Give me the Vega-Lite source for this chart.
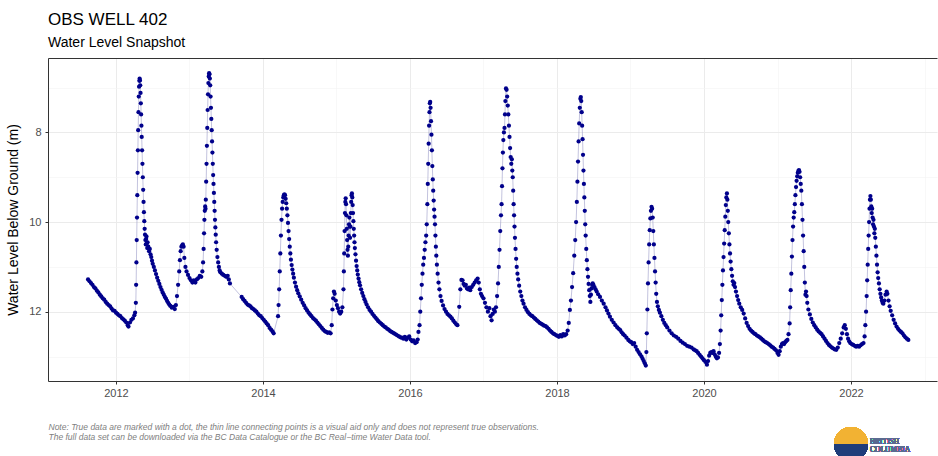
{
  "$schema": "https://vega.github.io/schema/vega-lite/v6.json",
  "width": 889,
  "height": 323,
  "autosize": "none",
  "padding": {"left": 48, "top": 58, "right": 1, "bottom": 75},
  "background": "white",
  "config": {"view": {"stroke": null}, "font": "Liberation Sans"},
  "title": {
    "text": "OBS WELL 402",
    "subtitle": "Water Level Snapshot",
    "anchor": "start",
    "frame": "group",
    "font": "Liberation Sans",
    "fontSize": 17,
    "fontWeight": "normal",
    "color": "#000000",
    "subtitleFont": "Liberation Sans",
    "subtitleFontSize": 14,
    "subtitleColor": "#000000",
    "subtitlePadding": 7,
    "offset": 7
  },
  "data": {"values": [
{"year":2011.62,"depth":11.28},{"year":2011.64,"depth":11.32},{"year":2011.66,"depth":11.36},{"year":2011.68,"depth":11.40},{"year":2011.70,"depth":11.45},{"year":2011.72,"depth":11.48},{"year":2011.74,"depth":11.53},{"year":2011.76,"depth":11.57},{"year":2011.78,"depth":11.62},{"year":2011.80,"depth":11.66},{"year":2011.82,"depth":11.70},{"year":2011.84,"depth":11.73},{"year":2011.86,"depth":11.78},{"year":2011.88,"depth":11.82},{"year":2011.90,"depth":11.85},{"year":2011.92,"depth":11.88},{"year":2011.94,"depth":11.93},{"year":2011.96,"depth":11.97},{"year":2011.98,"depth":11.98},{"year":2012.00,"depth":12.02},{"year":2012.02,"depth":12.05},{"year":2012.04,"depth":12.08},{"year":2012.06,"depth":12.10},{"year":2012.08,"depth":12.14},{"year":2012.10,"depth":12.17},{"year":2012.12,"depth":12.20},{"year":2012.14,"depth":12.24},{"year":2012.16,"depth":12.30},{"year":2012.17,"depth":12.33},{"year":2012.19,"depth":12.24},{"year":2012.21,"depth":12.18},{"year":2012.23,"depth":12.15},{"year":2012.25,"depth":12.08},{"year":2012.26,"depth":12.02},
{"year":2012.270,"depth":11.80},{"year":2012.274,"depth":11.40},{"year":2012.278,"depth":10.90},{"year":2012.282,"depth":10.40},{"year":2012.286,"depth":9.90},{"year":2012.290,"depth":9.40},{"year":2012.294,"depth":8.90},{"year":2012.298,"depth":8.40},{"year":2012.302,"depth":7.95},{"year":2012.306,"depth":7.55},{"year":2012.310,"depth":7.20},{"year":2012.314,"depth":6.98},{"year":2012.318,"depth":6.85},{"year":2012.322,"depth":6.80},{"year":2012.326,"depth":6.84},{"year":2012.330,"depth":6.95},{"year":2012.334,"depth":7.12},{"year":2012.338,"depth":7.35},{"year":2012.342,"depth":7.60},{"year":2012.346,"depth":7.85},{"year":2012.350,"depth":8.10},{"year":2012.355,"depth":8.40},{"year":2012.360,"depth":8.70},{"year":2012.365,"depth":9.00},{"year":2012.370,"depth":9.28},{"year":2012.375,"depth":9.55},{"year":2012.380,"depth":9.78},{"year":2012.385,"depth":9.98},{"year":2012.390,"depth":10.15},{"year":2012.395,"depth":10.28},{"year":2012.400,"depth":10.40},{"year":2012.405,"depth":10.50},{"year":2012.410,"depth":10.38},{"year":2012.415,"depth":10.32},{"year":2012.420,"depth":10.48},{"year":2012.425,"depth":10.58},{"year":2012.430,"depth":10.45},{"year":2012.440,"depth":10.55},{"year":2012.450,"depth":10.65},{"year":2012.460,"depth":10.60},{"year":2012.470,"depth":10.72},{"year":2012.480,"depth":10.78},{"year":2012.490,"depth":10.86},{"year":2012.500,"depth":10.93},{"year":2012.515,"depth":11.00},{"year":2012.530,"depth":11.08},{"year":2012.545,"depth":11.16},{"year":2012.560,"depth":11.24},{"year":2012.575,"depth":11.31},{"year":2012.590,"depth":11.38},{"year":2012.605,"depth":11.45},{"year":2012.620,"depth":11.51},{"year":2012.635,"depth":11.57},{"year":2012.650,"depth":11.62},{"year":2012.665,"depth":11.67},{"year":2012.680,"depth":11.71},{"year":2012.695,"depth":11.76},{"year":2012.710,"depth":11.80},{"year":2012.725,"depth":11.84},{"year":2012.740,"depth":11.87},{"year":2012.760,"depth":11.91},{"year":2012.780,"depth":11.89},{"year":2012.800,"depth":11.94},{"year":2012.815,"depth":11.85},{"year":2012.830,"depth":11.65},{"year":2012.845,"depth":11.40},{"year":2012.860,"depth":11.10},{"year":2012.870,"depth":10.85},{"year":2012.880,"depth":10.65},{"year":2012.890,"depth":10.55},{"year":2012.900,"depth":10.52},{"year":2012.910,"depth":10.50},{"year":2012.920,"depth":10.55},{"year":2012.930,"depth":10.80},{"year":2012.945,"depth":11.00},{"year":2012.960,"depth":11.10},{"year":2012.980,"depth":11.18},{"year":2013.000,"depth":11.25},{"year":2013.020,"depth":11.30},{"year":2013.040,"depth":11.35},{"year":2013.060,"depth":11.30},{"year":2013.080,"depth":11.35},{"year":2013.100,"depth":11.28},{"year":2013.120,"depth":11.25},{"year":2013.140,"depth":11.20},{"year":2013.160,"depth":11.22},{"year":2013.175,"depth":11.10},{"year":2013.185,"depth":10.90},{"year":2013.192,"depth":10.60},{"year":2013.198,"depth":10.25},{"year":2013.203,"depth":9.95},{"year":2013.208,"depth":9.75},{"year":2013.213,"depth":9.65},{"year":2013.218,"depth":9.70},{"year":2013.222,"depth":9.50},{"year":2013.227,"depth":9.10},{"year":2013.232,"depth":8.70},{"year":2013.237,"depth":8.30},{"year":2013.242,"depth":7.90},{"year":2013.247,"depth":7.50},{"year":2013.252,"depth":7.15},{"year":2013.257,"depth":6.90},{"year":2013.262,"depth":6.75},{"year":2013.267,"depth":6.68},{"year":2013.272,"depth":6.70},{"year":2013.277,"depth":6.80},{"year":2013.282,"depth":6.95},{"year":2013.287,"depth":7.20},{"year":2013.292,"depth":7.45},{"year":2013.297,"depth":7.70},{"year":2013.302,"depth":7.95},{"year":2013.307,"depth":8.20},{"year":2013.312,"depth":8.45},{"year":2013.317,"depth":8.70},{"year":2013.322,"depth":8.95},{"year":2013.327,"depth":9.15},{"year":2013.332,"depth":9.35},{"year":2013.337,"depth":9.55},{"year":2013.342,"depth":9.75},{"year":2013.347,"depth":9.95},{"year":2013.352,"depth":10.12},{"year":2013.357,"depth":10.28},{"year":2013.362,"depth":10.45},{"year":2013.370,"depth":10.62},{"year":2013.380,"depth":10.78},{"year":2013.390,"depth":10.90},{"year":2013.400,"depth":11.00},{"year":2013.410,"depth":11.08},{"year":2013.420,"depth":11.12},{"year":2013.440,"depth":11.15},{"year":2013.460,"depth":11.18},{"year":2013.480,"depth":11.20},{"year":2013.500,"depth":11.22},{"year":2013.520,"depth":11.20},{"year":2013.535,"depth":11.28},{"year":2013.550,"depth":11.37},
{"year":2013.710,"depth":11.67},{"year":2013.730,"depth":11.72},{"year":2013.750,"depth":11.76},{"year":2013.770,"depth":11.80},{"year":2013.790,"depth":11.84},{"year":2013.810,"depth":11.86},{"year":2013.830,"depth":11.88},{"year":2013.850,"depth":11.92},{"year":2013.870,"depth":11.94},{"year":2013.890,"depth":11.97},{"year":2013.910,"depth":12.00},{"year":2013.930,"depth":12.04},{"year":2013.950,"depth":12.08},{"year":2013.970,"depth":12.10},{"year":2013.990,"depth":12.14},{"year":2014.010,"depth":12.18},{"year":2014.030,"depth":12.22},{"year":2014.050,"depth":12.26},{"year":2014.070,"depth":12.30},{"year":2014.090,"depth":12.36},{"year":2014.110,"depth":12.40},{"year":2014.130,"depth":12.44},{"year":2014.145,"depth":12.48},
{"year":2014.205,"depth":12.10},{"year":2014.212,"depth":11.85},{"year":2014.220,"depth":11.50},{"year":2014.228,"depth":11.10},{"year":2014.236,"depth":10.70},{"year":2014.244,"depth":10.30},{"year":2014.252,"depth":9.95},{"year":2014.260,"depth":9.70},{"year":2014.268,"depth":9.55},{"year":2014.276,"depth":9.45},{"year":2014.284,"depth":9.40},{"year":2014.292,"depth":9.38},{"year":2014.300,"depth":9.40},{"year":2014.308,"depth":9.48},{"year":2014.316,"depth":9.58},{"year":2014.324,"depth":9.70},{"year":2014.332,"depth":9.85},{"year":2014.340,"depth":10.02},{"year":2014.348,"depth":10.20},{"year":2014.356,"depth":10.38},{"year":2014.364,"depth":10.55},{"year":2014.372,"depth":10.70},{"year":2014.380,"depth":10.84},{"year":2014.390,"depth":10.96},{"year":2014.400,"depth":11.06},{"year":2014.410,"depth":11.15},{"year":2014.420,"depth":11.24},{"year":2014.435,"depth":11.35},{"year":2014.450,"depth":11.44},{"year":2014.465,"depth":11.52},{"year":2014.480,"depth":11.59},{"year":2014.500,"depth":11.66},{"year":2014.520,"depth":11.73},{"year":2014.540,"depth":11.80},{"year":2014.560,"depth":11.86},{"year":2014.580,"depth":11.92},{"year":2014.600,"depth":11.97},{"year":2014.620,"depth":12.02},{"year":2014.640,"depth":12.06},{"year":2014.660,"depth":12.10},{"year":2014.680,"depth":12.14},{"year":2014.700,"depth":12.17},{"year":2014.720,"depth":12.20},{"year":2014.740,"depth":12.24},{"year":2014.760,"depth":12.28},{"year":2014.780,"depth":12.32},{"year":2014.800,"depth":12.36},{"year":2014.820,"depth":12.40},{"year":2014.840,"depth":12.43},{"year":2014.860,"depth":12.45},{"year":2014.880,"depth":12.47},{"year":2014.900,"depth":12.46},{"year":2014.920,"depth":12.48},{"year":2014.935,"depth":12.30},{"year":2014.945,"depth":11.95},{"year":2014.955,"depth":11.70},{"year":2014.965,"depth":11.55},{"year":2014.975,"depth":11.60},{"year":2014.990,"depth":11.75},{"year":2015.005,"depth":11.85},{"year":2015.020,"depth":11.92},{"year":2015.035,"depth":12.00},{"year":2015.050,"depth":12.04},{"year":2015.065,"depth":12.00},{"year":2015.080,"depth":11.90},
{"year":2015.095,"depth":11.50},{"year":2015.100,"depth":11.10},{"year":2015.105,"depth":10.70},{"year":2015.110,"depth":10.20},{"year":2015.115,"depth":9.80},{"year":2015.120,"depth":9.55},{"year":2015.125,"depth":9.47},{"year":2015.130,"depth":9.60},{"year":2015.135,"depth":9.85},{"year":2015.140,"depth":10.15},{"year":2015.145,"depth":10.40},{"year":2015.150,"depth":10.62},{"year":2015.155,"depth":10.75},{"year":2015.160,"depth":10.55},{"year":2015.165,"depth":10.30},{"year":2015.170,"depth":10.05},{"year":2015.175,"depth":9.90},{"year":2015.180,"depth":10.10},{"year":2015.185,"depth":10.35},{"year":2015.190,"depth":10.10},{"year":2015.195,"depth":9.80},{"year":2015.200,"depth":9.55},{"year":2015.205,"depth":9.40},{"year":2015.210,"depth":9.36},{"year":2015.215,"depth":9.45},{"year":2015.220,"depth":9.62},{"year":2015.225,"depth":9.80},{"year":2015.230,"depth":9.98},{"year":2015.235,"depth":10.15},{"year":2015.240,"depth":10.30},{"year":2015.245,"depth":10.45},{"year":2015.250,"depth":10.58},{"year":2015.258,"depth":10.72},{"year":2015.266,"depth":10.86},{"year":2015.274,"depth":10.98},{"year":2015.282,"depth":11.08},{"year":2015.290,"depth":11.17},{"year":2015.300,"depth":11.26},{"year":2015.310,"depth":11.34},{"year":2015.320,"depth":11.41},{"year":2015.335,"depth":11.50},{"year":2015.350,"depth":11.58},{"year":2015.365,"depth":11.65},{"year":2015.380,"depth":11.72},{"year":2015.395,"depth":11.78},{"year":2015.410,"depth":11.84},{"year":2015.430,"depth":11.90},{"year":2015.450,"depth":11.96},{"year":2015.470,"depth":12.00},{"year":2015.490,"depth":12.05},{"year":2015.510,"depth":12.09},{"year":2015.530,"depth":12.13},{"year":2015.550,"depth":12.17},{"year":2015.570,"depth":12.21},{"year":2015.590,"depth":12.24},{"year":2015.610,"depth":12.27},{"year":2015.630,"depth":12.30},{"year":2015.650,"depth":12.33},{"year":2015.670,"depth":12.35},{"year":2015.690,"depth":12.38},{"year":2015.710,"depth":12.40},{"year":2015.730,"depth":12.43},{"year":2015.750,"depth":12.45},{"year":2015.770,"depth":12.47},{"year":2015.790,"depth":12.49},{"year":2015.810,"depth":12.51},{"year":2015.830,"depth":12.53},{"year":2015.850,"depth":12.55},{"year":2015.870,"depth":12.57},{"year":2015.890,"depth":12.58},{"year":2015.910,"depth":12.60},{"year":2015.930,"depth":12.56},{"year":2015.950,"depth":12.62},{"year":2015.970,"depth":12.58},{"year":2015.990,"depth":12.55},{"year":2016.010,"depth":12.62},{"year":2016.030,"depth":12.66},{"year":2016.050,"depth":12.64},{"year":2016.070,"depth":12.70},{"year":2016.090,"depth":12.68},{"year":2016.105,"depth":12.62},{"year":2016.115,"depth":12.45},
{"year":2016.130,"depth":12.30},{"year":2016.140,"depth":12.00},{"year":2016.150,"depth":11.70},{"year":2016.160,"depth":11.40},{"year":2016.170,"depth":11.15},{"year":2016.180,"depth":10.95},{"year":2016.190,"depth":10.80},{"year":2016.200,"depth":10.62},{"year":2016.210,"depth":10.45},{"year":2016.220,"depth":10.30},{"year":2016.228,"depth":10.05},{"year":2016.236,"depth":9.60},{"year":2016.242,"depth":9.15},{"year":2016.248,"depth":8.70},{"year":2016.254,"depth":8.25},{"year":2016.260,"depth":7.85},{"year":2016.265,"depth":7.55},{"year":2016.270,"depth":7.35},{"year":2016.275,"depth":7.32},{"year":2016.280,"depth":7.45},{"year":2016.286,"depth":7.75},{"year":2016.292,"depth":8.05},{"year":2016.298,"depth":8.40},{"year":2016.304,"depth":8.75},{"year":2016.310,"depth":9.05},{"year":2016.316,"depth":9.30},{"year":2016.322,"depth":9.52},{"year":2016.328,"depth":9.72},{"year":2016.334,"depth":9.88},{"year":2016.340,"depth":10.05},{"year":2016.346,"depth":10.30},{"year":2016.352,"depth":10.55},{"year":2016.358,"depth":10.75},{"year":2016.366,"depth":10.95},{"year":2016.376,"depth":11.15},{"year":2016.388,"depth":11.35},{"year":2016.400,"depth":11.50},{"year":2016.415,"depth":11.65},{"year":2016.430,"depth":11.76},{"year":2016.450,"depth":11.86},{"year":2016.470,"depth":11.94},{"year":2016.490,"depth":12.00},{"year":2016.510,"depth":12.05},{"year":2016.530,"depth":12.08},{"year":2016.550,"depth":12.11},{"year":2016.570,"depth":12.15},{"year":2016.590,"depth":12.20},{"year":2016.610,"depth":12.24},{"year":2016.630,"depth":12.28},{"year":2016.645,"depth":12.30},{"year":2016.670,"depth":11.89},{"year":2016.685,"depth":11.50},{"year":2016.700,"depth":11.29},{"year":2016.715,"depth":11.30},{"year":2016.730,"depth":11.38},{"year":2016.745,"depth":11.42},{"year":2016.760,"depth":11.40},{"year":2016.775,"depth":11.48},{"year":2016.790,"depth":11.50},{"year":2016.805,"depth":11.46},{"year":2016.820,"depth":11.52},{"year":2016.840,"depth":11.45},{"year":2016.860,"depth":11.40},{"year":2016.880,"depth":11.35},{"year":2016.900,"depth":11.30},{"year":2016.920,"depth":11.26},{"year":2016.935,"depth":11.35},{"year":2016.950,"depth":11.50},{"year":2016.965,"depth":11.60},{"year":2016.980,"depth":11.65},{"year":2017.000,"depth":11.70},{"year":2017.020,"depth":11.80},{"year":2017.040,"depth":11.90},{"year":2017.060,"depth":12.00},{"year":2017.080,"depth":11.92},{"year":2017.095,"depth":12.10},{"year":2017.110,"depth":12.19},{"year":2017.125,"depth":12.05},{"year":2017.140,"depth":11.95},{"year":2017.155,"depth":12.00},
{"year":2017.170,"depth":11.90},{"year":2017.185,"depth":11.65},{"year":2017.198,"depth":11.37},{"year":2017.208,"depth":11.00},{"year":2017.218,"depth":10.62},{"year":2017.228,"depth":10.20},{"year":2017.238,"depth":9.85},{"year":2017.246,"depth":9.60},{"year":2017.252,"depth":9.20},{"year":2017.258,"depth":8.80},{"year":2017.264,"depth":8.45},{"year":2017.270,"depth":8.17},{"year":2017.278,"depth":8.00},{"year":2017.286,"depth":7.90},{"year":2017.292,"depth":7.60},{"year":2017.298,"depth":7.30},{"year":2017.306,"depth":7.02},{"year":2017.314,"depth":7.05},{"year":2017.322,"depth":7.20},{"year":2017.330,"depth":7.40},{"year":2017.338,"depth":7.60},{"year":2017.346,"depth":7.85},{"year":2017.354,"depth":8.10},{"year":2017.362,"depth":8.35},{"year":2017.370,"depth":8.55},{"year":2017.378,"depth":8.70},{"year":2017.386,"depth":8.60},{"year":2017.392,"depth":8.85},{"year":2017.398,"depth":9.00},{"year":2017.404,"depth":9.30},{"year":2017.410,"depth":9.60},{"year":2017.416,"depth":9.85},{"year":2017.422,"depth":10.10},{"year":2017.428,"depth":10.35},{"year":2017.436,"depth":10.60},{"year":2017.444,"depth":10.82},{"year":2017.452,"depth":11.00},{"year":2017.462,"depth":11.15},{"year":2017.472,"depth":11.28},{"year":2017.485,"depth":11.42},{"year":2017.500,"depth":11.55},{"year":2017.515,"depth":11.65},{"year":2017.530,"depth":11.75},{"year":2017.545,"depth":11.82},{"year":2017.565,"depth":11.90},{"year":2017.585,"depth":11.96},{"year":2017.605,"depth":12.01},{"year":2017.625,"depth":12.05},{"year":2017.645,"depth":12.08},{"year":2017.665,"depth":12.10},{"year":2017.685,"depth":12.13},{"year":2017.705,"depth":12.16},{"year":2017.725,"depth":12.19},{"year":2017.745,"depth":12.22},{"year":2017.765,"depth":12.25},{"year":2017.785,"depth":12.27},{"year":2017.805,"depth":12.29},{"year":2017.825,"depth":12.31},{"year":2017.845,"depth":12.32},{"year":2017.865,"depth":12.35},{"year":2017.885,"depth":12.38},{"year":2017.905,"depth":12.42},{"year":2017.925,"depth":12.45},{"year":2017.945,"depth":12.48},{"year":2017.965,"depth":12.50},{"year":2017.985,"depth":12.52},{"year":2018.005,"depth":12.54},{"year":2018.025,"depth":12.56},{"year":2018.045,"depth":12.52},{"year":2018.065,"depth":12.55},{"year":2018.085,"depth":12.50},{"year":2018.105,"depth":12.53},{"year":2018.125,"depth":12.50},{"year":2018.145,"depth":12.42},
{"year":2018.160,"depth":12.25},{"year":2018.175,"depth":11.96},{"year":2018.190,"depth":11.75},{"year":2018.205,"depth":11.45},{"year":2018.220,"depth":11.14},{"year":2018.235,"depth":10.75},{"year":2018.248,"depth":10.40},{"year":2018.260,"depth":10.00},{"year":2018.270,"depth":9.55},{"year":2018.278,"depth":9.10},{"year":2018.286,"depth":8.65},{"year":2018.294,"depth":8.20},{"year":2018.302,"depth":7.80},{"year":2018.310,"depth":7.45},{"year":2018.318,"depth":7.25},{"year":2018.324,"depth":7.21},{"year":2018.330,"depth":7.30},{"year":2018.336,"depth":7.55},{"year":2018.342,"depth":7.85},{"year":2018.348,"depth":8.15},{"year":2018.354,"depth":8.50},{"year":2018.360,"depth":8.85},{"year":2018.366,"depth":9.15},{"year":2018.372,"depth":9.45},{"year":2018.378,"depth":9.75},{"year":2018.384,"depth":10.05},{"year":2018.390,"depth":10.30},{"year":2018.398,"depth":10.60},{"year":2018.406,"depth":10.85},{"year":2018.414,"depth":11.05},{"year":2018.422,"depth":11.22},{"year":2018.430,"depth":11.38},{"year":2018.438,"depth":11.52},{"year":2018.446,"depth":11.65},{"year":2018.454,"depth":11.78},{"year":2018.462,"depth":11.62},{"year":2018.470,"depth":11.48},{"year":2018.478,"depth":11.40},{"year":2018.486,"depth":11.37},{"year":2018.495,"depth":11.40},{"year":2018.510,"depth":11.45},{"year":2018.525,"depth":11.50},{"year":2018.540,"depth":11.55},{"year":2018.560,"depth":11.61},{"year":2018.585,"depth":11.67},{"year":2018.610,"depth":11.75},{"year":2018.635,"depth":11.82},{"year":2018.660,"depth":11.90},{"year":2018.680,"depth":11.97},{"year":2018.700,"depth":12.04},{"year":2018.720,"depth":12.11},{"year":2018.745,"depth":12.18},{"year":2018.770,"depth":12.24},{"year":2018.795,"depth":12.30},{"year":2018.820,"depth":12.35},{"year":2018.840,"depth":12.38},{"year":2018.860,"depth":12.41},{"year":2018.880,"depth":12.46},{"year":2018.900,"depth":12.50},{"year":2018.920,"depth":12.53},{"year":2018.945,"depth":12.58},{"year":2018.970,"depth":12.63},{"year":2018.990,"depth":12.66},{"year":2019.010,"depth":12.68},{"year":2019.030,"depth":12.72},{"year":2019.050,"depth":12.70},{"year":2019.070,"depth":12.78},{"year":2019.090,"depth":12.85},{"year":2019.110,"depth":12.90},{"year":2019.130,"depth":12.95},{"year":2019.150,"depth":13.00},{"year":2019.165,"depth":13.05},{"year":2019.180,"depth":13.10},{"year":2019.195,"depth":13.15},{"year":2019.208,"depth":13.20},
{"year":2019.216,"depth":12.90},{"year":2019.222,"depth":12.48},{"year":2019.230,"depth":11.95},{"year":2019.238,"depth":11.37},{"year":2019.246,"depth":10.90},{"year":2019.254,"depth":10.50},{"year":2019.262,"depth":10.18},{"year":2019.270,"depth":9.92},{"year":2019.278,"depth":9.75},{"year":2019.286,"depth":9.66},{"year":2019.294,"depth":9.70},{"year":2019.302,"depth":9.90},{"year":2019.310,"depth":10.20},{"year":2019.318,"depth":10.50},{"year":2019.326,"depth":10.80},{"year":2019.334,"depth":11.10},{"year":2019.342,"depth":11.35},{"year":2019.350,"depth":11.60},{"year":2019.360,"depth":11.78},{"year":2019.372,"depth":11.88},{"year":2019.386,"depth":11.96},{"year":2019.400,"depth":12.02},{"year":2019.420,"depth":12.10},{"year":2019.440,"depth":12.18},{"year":2019.460,"depth":12.25},{"year":2019.480,"depth":12.30},{"year":2019.500,"depth":12.35},{"year":2019.530,"depth":12.42},{"year":2019.560,"depth":12.48},{"year":2019.590,"depth":12.53},{"year":2019.620,"depth":12.56},{"year":2019.650,"depth":12.60},{"year":2019.680,"depth":12.65},{"year":2019.710,"depth":12.69},{"year":2019.740,"depth":12.72},{"year":2019.770,"depth":12.76},{"year":2019.800,"depth":12.78},{"year":2019.830,"depth":12.80},{"year":2019.860,"depth":12.84},{"year":2019.880,"depth":12.86},{"year":2019.900,"depth":12.88},{"year":2019.920,"depth":12.92},{"year":2019.940,"depth":12.96},{"year":2019.960,"depth":13.00},{"year":2019.980,"depth":13.04},{"year":2020.000,"depth":13.08},{"year":2020.020,"depth":13.12},{"year":2020.040,"depth":13.18},
{"year":2020.055,"depth":13.10},{"year":2020.070,"depth":12.98},{"year":2020.085,"depth":12.92},{"year":2020.100,"depth":12.90},{"year":2020.115,"depth":12.92},{"year":2020.130,"depth":12.88},{"year":2020.145,"depth":12.95},{"year":2020.160,"depth":13.00},{"year":2020.175,"depth":13.04},{"year":2020.190,"depth":13.02},{"year":2020.205,"depth":12.92},{"year":2020.216,"depth":12.72},{"year":2020.226,"depth":12.42},{"year":2020.234,"depth":12.08},{"year":2020.242,"depth":11.74},{"year":2020.250,"depth":11.40},{"year":2020.258,"depth":11.08},{"year":2020.266,"depth":10.78},{"year":2020.274,"depth":10.48},{"year":2020.282,"depth":10.18},{"year":2020.290,"depth":9.88},{"year":2020.297,"depth":9.62},{"year":2020.304,"depth":9.45},{"year":2020.312,"depth":9.36},{"year":2020.318,"depth":9.50},{"year":2020.324,"depth":9.75},{"year":2020.330,"depth":10.00},{"year":2020.338,"depth":10.25},{"year":2020.346,"depth":10.50},{"year":2020.354,"depth":10.70},{"year":2020.362,"depth":10.88},{"year":2020.372,"depth":11.05},{"year":2020.382,"depth":11.20},{"year":2020.392,"depth":11.32},{"year":2020.402,"depth":11.40},{"year":2020.412,"depth":11.36},{"year":2020.422,"depth":11.45},{"year":2020.435,"depth":11.55},{"year":2020.450,"depth":11.65},{"year":2020.465,"depth":11.74},{"year":2020.480,"depth":11.82},{"year":2020.500,"depth":11.90},{"year":2020.520,"depth":11.96},{"year":2020.540,"depth":12.04},{"year":2020.560,"depth":12.15},{"year":2020.580,"depth":12.25},{"year":2020.600,"depth":12.32},{"year":2020.620,"depth":12.38},{"year":2020.640,"depth":12.42},{"year":2020.660,"depth":12.45},{"year":2020.680,"depth":12.48},{"year":2020.700,"depth":12.50},{"year":2020.720,"depth":12.53},{"year":2020.740,"depth":12.55},{"year":2020.760,"depth":12.57},{"year":2020.780,"depth":12.60},{"year":2020.800,"depth":12.63},{"year":2020.820,"depth":12.66},{"year":2020.840,"depth":12.68},{"year":2020.860,"depth":12.70},{"year":2020.880,"depth":12.72},{"year":2020.900,"depth":12.75},{"year":2020.920,"depth":12.78},{"year":2020.940,"depth":12.80},{"year":2020.960,"depth":12.83},{"year":2020.980,"depth":12.86},{"year":2021.000,"depth":12.92},{"year":2021.015,"depth":12.96},{"year":2021.030,"depth":12.88},{"year":2021.045,"depth":12.78},{"year":2021.060,"depth":12.72},{"year":2021.075,"depth":12.70},{"year":2021.090,"depth":12.72},{"year":2021.105,"depth":12.68},{"year":2021.120,"depth":12.65},{"year":2021.135,"depth":12.63},{"year":2021.150,"depth":12.50},
{"year":2021.165,"depth":12.26},{"year":2021.172,"depth":11.90},{"year":2021.180,"depth":11.52},{"year":2021.188,"depth":11.15},{"year":2021.196,"depth":10.77},{"year":2021.204,"depth":10.40},{"year":2021.212,"depth":10.10},{"year":2021.220,"depth":9.90},{"year":2021.228,"depth":9.78},{"year":2021.236,"depth":9.60},{"year":2021.244,"depth":9.40},{"year":2021.252,"depth":9.22},{"year":2021.260,"depth":9.08},{"year":2021.268,"depth":8.98},{"year":2021.276,"depth":8.90},{"year":2021.284,"depth":8.86},{"year":2021.292,"depth":8.84},{"year":2021.300,"depth":8.88},{"year":2021.308,"depth":9.00},{"year":2021.316,"depth":9.15},{"year":2021.324,"depth":9.30},{"year":2021.332,"depth":9.60},{"year":2021.340,"depth":9.95},{"year":2021.348,"depth":10.30},{"year":2021.356,"depth":10.65},{"year":2021.364,"depth":11.00},{"year":2021.372,"depth":11.35},{"year":2021.380,"depth":11.62},{"year":2021.388,"depth":11.55},{"year":2021.396,"depth":11.65},{"year":2021.405,"depth":11.80},{"year":2021.420,"depth":11.95},{"year":2021.440,"depth":12.06},{"year":2021.460,"depth":12.16},{"year":2021.480,"depth":12.24},{"year":2021.500,"depth":12.30},{"year":2021.520,"depth":12.35},{"year":2021.540,"depth":12.40},{"year":2021.560,"depth":12.44},{"year":2021.580,"depth":12.47},{"year":2021.600,"depth":12.50},{"year":2021.620,"depth":12.55},{"year":2021.640,"depth":12.60},{"year":2021.660,"depth":12.65},{"year":2021.680,"depth":12.70},{"year":2021.700,"depth":12.74},{"year":2021.720,"depth":12.77},{"year":2021.740,"depth":12.80},{"year":2021.760,"depth":12.82},{"year":2021.780,"depth":12.84},{"year":2021.800,"depth":12.85},{"year":2021.820,"depth":12.80},{"year":2021.840,"depth":12.70},{"year":2021.860,"depth":12.60},{"year":2021.880,"depth":12.48},{"year":2021.900,"depth":12.35},{"year":2021.915,"depth":12.30},{"year":2021.930,"depth":12.38},{"year":2021.945,"depth":12.50},{"year":2021.960,"depth":12.60},{"year":2021.975,"depth":12.66},{"year":2021.990,"depth":12.70},{"year":2022.010,"depth":12.72},{"year":2022.030,"depth":12.74},{"year":2022.050,"depth":12.76},{"year":2022.070,"depth":12.78},{"year":2022.090,"depth":12.76},{"year":2022.110,"depth":12.78},{"year":2022.130,"depth":12.75},{"year":2022.150,"depth":12.72},{"year":2022.170,"depth":12.70},{"year":2022.185,"depth":12.55},{"year":2022.195,"depth":12.30},{"year":2022.205,"depth":12.00},{"year":2022.213,"depth":11.65},{"year":2022.220,"depth":11.30},{"year":2022.227,"depth":10.95},{"year":2022.234,"depth":10.60},{"year":2022.240,"depth":10.30},{"year":2022.246,"depth":10.00},{"year":2022.252,"depth":9.70},{"year":2022.258,"depth":9.50},{"year":2022.264,"depth":9.42},{"year":2022.270,"depth":9.50},{"year":2022.276,"depth":9.65},{"year":2022.282,"depth":9.80},{"year":2022.288,"depth":9.70},{"year":2022.294,"depth":9.90},{"year":2022.300,"depth":10.05},{"year":2022.306,"depth":9.95},{"year":2022.312,"depth":10.10},{"year":2022.318,"depth":10.25},{"year":2022.324,"depth":10.15},{"year":2022.330,"depth":10.35},{"year":2022.338,"depth":10.55},{"year":2022.346,"depth":10.75},{"year":2022.354,"depth":10.95},{"year":2022.362,"depth":11.12},{"year":2022.370,"depth":11.25},{"year":2022.380,"depth":11.37},{"year":2022.390,"depth":11.50},{"year":2022.400,"depth":11.60},{"year":2022.410,"depth":11.68},{"year":2022.420,"depth":11.75},{"year":2022.430,"depth":11.80},{"year":2022.440,"depth":11.82},{"year":2022.455,"depth":11.75},{"year":2022.470,"depth":11.62},{"year":2022.485,"depth":11.55},{"year":2022.495,"depth":11.60},{"year":2022.510,"depth":11.75},{"year":2022.525,"depth":11.88},{"year":2022.540,"depth":11.98},{"year":2022.560,"depth":12.08},{"year":2022.580,"depth":12.18},{"year":2022.600,"depth":12.26},{"year":2022.620,"depth":12.33},{"year":2022.640,"depth":12.38},{"year":2022.660,"depth":12.42},{"year":2022.680,"depth":12.45},{"year":2022.700,"depth":12.48},{"year":2022.720,"depth":12.53},{"year":2022.740,"depth":12.57},{"year":2022.760,"depth":12.60},{"year":2022.780,"depth":12.63}
  ]},
  "encoding": {
    "x": {
      "field": "year", "type": "quantitative",
      "scale": {"domain": [2011.075, 2023.17], "nice": false, "zero": false},
      "axis": {
        "values": [2012,2013,2014,2015,2016,2017,2018,2019,2020,2021,2022,2023],
        "format": "d",
        "labelExpr": "datum.value % 2 === 0 ? datum.label : ''",
        "grid": true,
        "gridColor": {"condition": {"test": "datum.value % 2 === 0", "value": "#ebebeb"}, "value": "#f3f3f3"},
        "gridWidth": {"condition": {"test": "datum.value % 2 === 0", "value": 1}, "value": 0.6},
        "tickOpacity": {"condition": {"test": "datum.value % 2 === 0", "value": 1}, "value": 0},
        "tickColor": "#333333", "tickSize": 3, "tickWidth": 1,
        "domainColor": "#333333", "domainWidth": 1,
        "labelColor": "#4d4d4d", "labelFontSize": 11, "labelPadding": 3, "labelFont": "Liberation Sans",
        "title": ["Note: True data are marked with a dot, the thin line connecting points is a visual aid only and does not represent true observations.", "The full data set can be downloaded via the BC Data Catalogue or the BC Real\u2212time Water Data tool."],
        "titleAnchor": "start", "titleAlign": "left", "titleBaseline": "top",
        "titleFont": "Liberation Sans", "titleFontStyle": "italic", "titleFontWeight": "normal",
        "titleFontSize": 8.5, "titleColor": "#808080", "titleLineHeight": 10, "titlePadding": 24
      }
    },
    "y": {
      "field": "depth", "type": "quantitative",
      "scale": {"domain": [6.34, 13.545], "nice": false, "zero": false, "reverse": true},
      "axis": {
        "values": [7,8,9,10,11,12,13],
        "labelExpr": "datum.value % 2 === 0 ? datum.label : ''",
        "grid": true,
        "gridColor": {"condition": {"test": "datum.value % 2 === 0", "value": "#ebebeb"}, "value": "#f3f3f3"},
        "gridWidth": {"condition": {"test": "datum.value % 2 === 0", "value": 1}, "value": 0.6},
        "tickOpacity": {"condition": {"test": "datum.value % 2 === 0", "value": 1}, "value": 0},
        "tickColor": "#333333", "tickSize": 3, "tickWidth": 1,
        "domainColor": "#333333", "domainWidth": 1,
        "labelColor": "#4d4d4d", "labelFontSize": 11, "labelPadding": 4, "labelFont": "Liberation Sans",
        "title": "Water Level Below Ground (m)",
        "titleFont": "Liberation Sans", "titleFontSize": 14, "titleFontWeight": "normal", "titleColor": "#000000", "titlePadding": 8
      }
    }
  },
  "layer": [
    {"mark": {"type": "line", "color": "#9a9ac8", "strokeWidth": 0.6}},
    {
      "mark": {"type": "point", "filled": true, "color": "#00008B", "size": 18, "opacity": 1},
      "encoding": {
        "x": {"field": "year", "type": "quantitative", "axis": {"orient": "top", "labels": false, "ticks": false, "grid": false, "domain": true, "domainColor": "#333333", "domainWidth": 1, "title": null}},
        "y": {"field": "depth", "type": "quantitative", "axis": null}
      }
    },
    {
      "mark": {"type": "arc", "theta": -1.5708, "theta2": 1.5708, "radius": 17, "color": "#f2b233", "clip": false},
      "encoding": {"x": {"datum": 2022.0, "type": "quantitative", "axis": null}, "y": {"datum": 14.95, "type": "quantitative", "axis": null}}
    },
    {
      "mark": {"type": "arc", "theta": 1.5708, "theta2": 4.7124, "radius": 17, "color": "#1f3d7a", "clip": false},
      "encoding": {"x": {"datum": 2022.0, "type": "quantitative", "axis": null}, "y": {"datum": 14.95, "type": "quantitative", "axis": null}}
    },
    {
      "mark": {"type": "text", "align": "left", "baseline": "middle", "font": "Liberation Serif", "fontSize": 7.5, "lineHeight": 8, "color": "#5a6a90", "clip": false},
      "encoding": {"x": {"datum": 2022.26, "type": "quantitative", "axis": null}, "y": {"datum": 14.9, "type": "quantitative", "axis": null}, "text": {"value": ["BRITISH", "COLUMBIA"]}}
    }
  ],
  "resolve": {"axis": {"x": "independent", "y": "independent"}}
}
